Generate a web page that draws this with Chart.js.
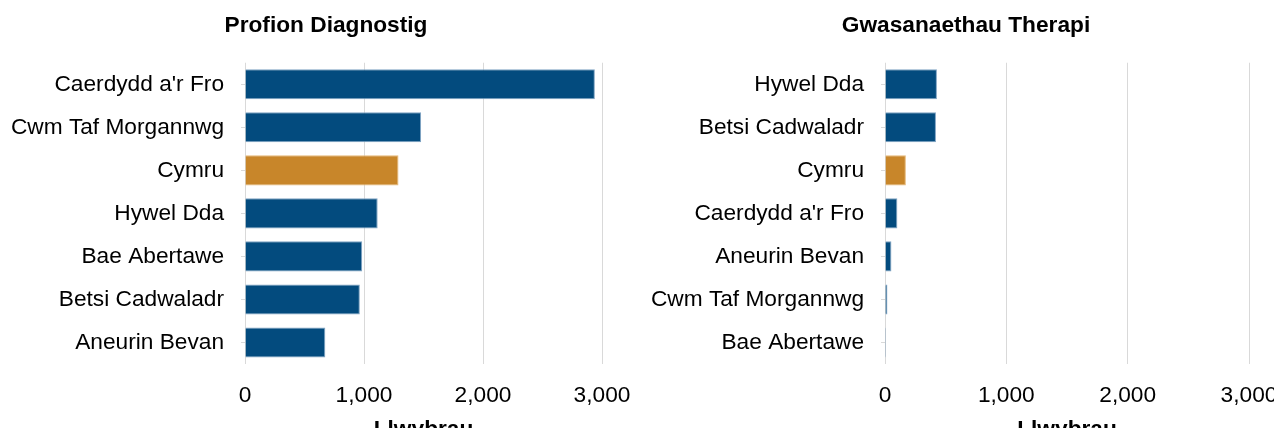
<!DOCTYPE html>
<html>
<head>
<meta charset="utf-8">
<script src="https://cdn.jsdelivr.net/npm/chart.js@4/dist/chart.umd.min.js"></script>
<style>
  html, body { margin: 0; padding: 0; overflow: hidden; background: #fff; width: 1274px; height: 428px; }
  #wrap1 { position: absolute; left: 0; top: 0; width: 652px; height: 450px; }
  #wrap2 { position: absolute; left: 637px; top: 0; width: 658px; height: 450px; }
</style>
</head>
<body>
<div id="wrap1"><canvas id="diagChart" width="652" height="450"></canvas></div>
<div id="wrap2"><canvas id="therChart" width="658" height="450"></canvas></div>
<script>
const diagLabels = ["Caerdydd a'r Fro", 'Cwm Taf Morgannwg', 'Cymru', 'Hywel Dda', 'Bae Abertawe', 'Betsi Cadwaladr', 'Aneurin Bevan'];
const diagValues = [2940, 1480, 1290, 1115, 985, 965, 675];

const therLabels = ['Hywel Dda', 'Betsi Cadwaladr', 'Cymru', "Caerdydd a'r Fro", 'Aneurin Bevan', 'Cwm Taf Morgannwg', 'Bae Abertawe'];
const therValues = [428, 420, 172, 102, 53, 20, 8];

const xTicks = [0, 1000, 2000, 3000];

const BLUE = '#034b7e';
const ORANGE = '#c8862a';
const GRID = '#d9d9d9';
const FONT = "'Liberation Sans', Arial, sans-serif";
const SIZE = 22.7;

function makeChart(id, title, labels, values, yWidth, padRight) {
  const ctx = document.getElementById(id).getContext('2d');
  return new Chart(ctx, {
    type: 'bar',
    data: {
      labels: labels,
      datasets: [{
        data: values,
        backgroundColor: labels.map(l => l === 'Cymru' ? ORANGE : BLUE),
        borderColor: labels.map(l => l === 'Cymru' ? '#e6b877' : '#7fa3c3'),
        borderWidth: 1,
        categoryPercentage: 1,
        barPercentage: 0.7
      }]
    },
    options: {
      indexAxis: 'y',
      responsive: false,
      animation: false,
      layout: { padding: 0 },
      plugins: {
        legend: { display: false },
        tooltip: { enabled: false },
        title: {
          display: true,
          text: title,
          color: '#000',
          font: { family: FONT, size: SIZE, weight: 'bold', lineHeight: 1.2 },
          padding: { top: 12, bottom: 23.5 }
        }
      },
      scales: {
        x: {
          min: 0,
          max: 3000,
          afterBuildTicks: s => { s.ticks = xTicks.map(v => ({ value: v })); },
          afterFit: s => { s.height = 86; s.paddingRight = padRight; s.paddingLeft = 0; },
          border: { display: false },
          grid: { color: GRID, lineWidth: 1, drawTicks: false },
          ticks: {
            color: '#000',
            padding: 18,
            font: { family: FONT, size: SIZE },
            callback: v => v.toLocaleString('en-GB')
          },
          title: {
            display: true,
            text: 'Llwybrau',
            color: '#000',
            font: { family: FONT, size: SIZE, weight: 'bold', lineHeight: 1.2 },
            padding: { top: 0, bottom: 7 }
          }
        },
        y: {
          afterFit: s => { s.width = yWidth; },
          border: { display: false },
          grid: { drawOnChartArea: false, offset: false, tickLength: 4, color: GRID },
          ticks: {
            color: '#000',
            padding: 17,
            font: { family: FONT, size: SIZE }
          }
        }
      }
    }
  });
}

makeChart('diagChart', 'Profion Diagnostig', diagLabels, diagValues, 245, 50);
makeChart('therChart', 'Gwasanaethau Therapi', therLabels, therValues, 248, 46);
</script>
</body>
</html>
